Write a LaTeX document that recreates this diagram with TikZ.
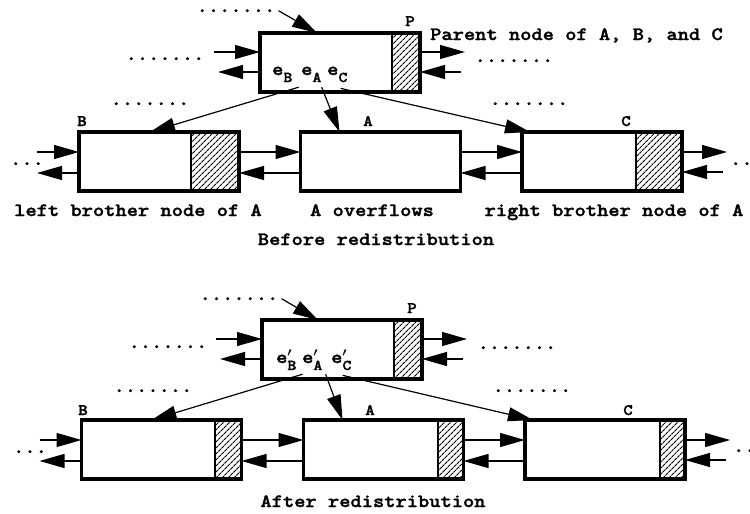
\documentclass[tikz,border=0pt]{standalone}
\usepackage{fontspec}
\newfontfamily\courfont{lmmonolt10-bold.otf}[FakeStretch=1.14,FakeBold=1.6]
\usetikzlibrary{arrows.meta,patterns.meta}

\tikzset{
  blk/.style={draw,line width=3.5pt,minimum width=160pt,minimum height=59pt,inner sep=0pt,outer sep=0pt},
  ptr/.style={-{Triangle[length=25pt,width=14pt]},line width=1.2pt},
  lbl/.style={font=\courfont\fontsize{18.8}{20}\selectfont,inner sep=0pt},
  tag/.style={font=\courfont\fontsize{16}{16}\selectfont,inner sep=0pt},
  hatch/.style={pattern={Lines[angle=45,distance=4pt,line width=1.2pt]}},
}
\newcommand{\subfont}{\fontsize{15}{15}\selectfont}
\newcommand{\esub}[1]{e\raisebox{-7pt}{\subfont #1}}
\newcommand{\epsub}[1]{e\rlap{\boldmath$^{\prime}$}\raisebox{-7pt}{\subfont #1}}

\begin{document}
\begin{tikzpicture}[x=1pt,y=-1pt]
\useasboundingbox (0,0) rectangle (750,514);

% before redistribution
\node[blk] (P1) at (340,62.5) {};
\node[blk] (B1) at (159,161.5) {};
\node[blk] (A1) at (380.5,161.5) {};
\node[blk] (C1) at (602,161.5) {};
% after redistribution
\node[blk] (P2) at (342,349.5) {};
\node[blk] (B2) at (161.5,449.5) {};
\node[blk] (A2) at (383.5,449.5) {};
\node[blk] (C2) at (605,449.5) {};

% free space at the end of each node
\foreach \n/\w in {P1/28,B1/48,C1/46,P2/28,B2/27,A2/26,C2/25} {
  \fill[hatch] ([xshift=-\w]\n.north east) rectangle (\n.south east);
  \draw[line width=2pt] ([xshift=-\w]\n.north east) -- ([xshift=-\w]\n.south east);
}

% sibling pointers
\foreach \l/\r in {B1/A1,A1/C1,B2/A2,A2/C2} {
  \draw[ptr] ([yshift=-20]\l.north east) -- ([yshift=-20]\r.north west);
  \draw[ptr] ([yshift=-41]\r.north west) -- ([yshift=-41]\l.north east);
}
\foreach \n in {B1,B2} {
  \draw[ptr] ([xshift=-42,yshift=-20]\n.north west) -- ([yshift=-20]\n.north west);
  \draw[ptr] ([yshift=-41]\n.north west) -- ([xshift=-42,yshift=-41]\n.north west);
}
\foreach \n in {C1,C2} {
  \draw[ptr] ([yshift=-20]\n.north east) -- ([xshift=45,yshift=-20]\n.north east);
  \draw[ptr] ([xshift=41,yshift=-40]\n.north east) -- ([yshift=-40]\n.north east);
}
\foreach \n in {P1,P2} {
  \draw[ptr] ([xshift=-46,yshift=-19]\n.north west) -- ([yshift=-19]\n.north west);
  \draw[ptr] ([yshift=-39]\n.north west) -- ([xshift=-42,yshift=-39]\n.north west);
  \draw[ptr] ([yshift=-19]\n.north east) -- ([xshift=45,yshift=-19]\n.north east);
  \draw[ptr] ([xshift=41,yshift=-39]\n.north east) -- ([yshift=-39]\n.north east);
}

% dots
\node[lbl,anchor=base] (up1) at (236,12) {.......};
\node[lbl,anchor=base] (pl1) at (165,60) {.......};
\node[lbl,anchor=base] (pr1) at (514,62) {.......};
\node[lbl,anchor=base] (ob1) at (150,105) {.......};
\node[lbl,anchor=base] (oc1) at (529,105) {.......};
\node[lbl,anchor=base] (ll1) at (27,165) {...};
\node[lbl,anchor=base] (rr1) at (747,165) {...};
\node[lbl,anchor=base] (up2) at (239,300) {.......};
\node[lbl,anchor=base] (pl2) at (168,348) {.......};
\node[lbl,anchor=base] (pr2) at (517,349) {.......};
\node[lbl,anchor=base] (ob2) at (153,392) {.......};
\node[lbl,anchor=base] (oc2) at (532,392) {.......};
\node[lbl,anchor=base] (ll2) at (30,453) {...};
\node[lbl,anchor=base] (rr2) at (750,452) {...};
\draw[ptr] ([xshift=3]up1.east) -- ([xshift=57]P1.north west);
\draw[ptr] ([xshift=3]up2.east) -- ([xshift=56]P2.north west);

% node names
\node[tag,anchor=base] (tP1) at (410,26) {P};
\node[tag,anchor=base] (tB1) at (82,126) {B};
\node[tag,anchor=base] (tA1) at (368,126) {A};
\node[tag,anchor=base] (tC1) at (626,126) {C};
\node[tag,anchor=base] (tP2) at (412,313) {P};
\node[tag,anchor=base] (tB2) at (83,415) {B};
\node[tag,anchor=base] (tA2) at (370,415) {A};
\node[tag,anchor=base] (tC2) at (628,415) {C};

% entries in the parent
\node[lbl,anchor=base west] (eB1) at (272,75) {\esub{B}};
\node[lbl,anchor=base west] (eA1) at (301,75) {\esub{A}};
\node[lbl,anchor=base west] (eC1) at (327,75) {\esub{C}};
\node[lbl,anchor=base west] (eB2) at (276,363) {\epsub{B}};
\node[lbl,anchor=base west] (eA2) at (302,363) {\epsub{A}};
\node[lbl,anchor=base west] (eC2) at (331,363) {\epsub{C}};
\draw[ptr] ([xshift=6,yshift=-5]eB1.south east) -- ([xshift=71]B1.north west);
\draw[ptr] ([yshift=-5]eA1.south east) -- ([xshift=39]A1.north west);
\draw[ptr] ([xshift=-7,yshift=-6]eC1.south east) -- ([xshift=8]C1.north west);
\draw[ptr] ([xshift=6,yshift=-4]eB2.south east) -- ([xshift=70]B2.north west);
\draw[ptr] ([xshift=3,yshift=-4]eA2.south east) -- ([xshift=39]A2.north west);
\draw[ptr] ([xshift=-9,yshift=-5]eC2.south east) -- ([xshift=8]C2.north west);

% captions
\node[lbl,anchor=base west] (cp) at (430,40) {Parent node of A, B, and C};
\node[lbl,anchor=base] (cl) at (138,216) {left brother node of A};
\node[lbl,anchor=base] (ca) at (372,216) {A overflows};
\node[lbl,anchor=base] (cr) at (614,216) {right brother node of A};
\node[lbl,anchor=base] (c1) at (376,245) {Before redistribution};
\node[lbl,anchor=base] (c2) at (373,507) {After redistribution};
\end{tikzpicture}
\end{document}
